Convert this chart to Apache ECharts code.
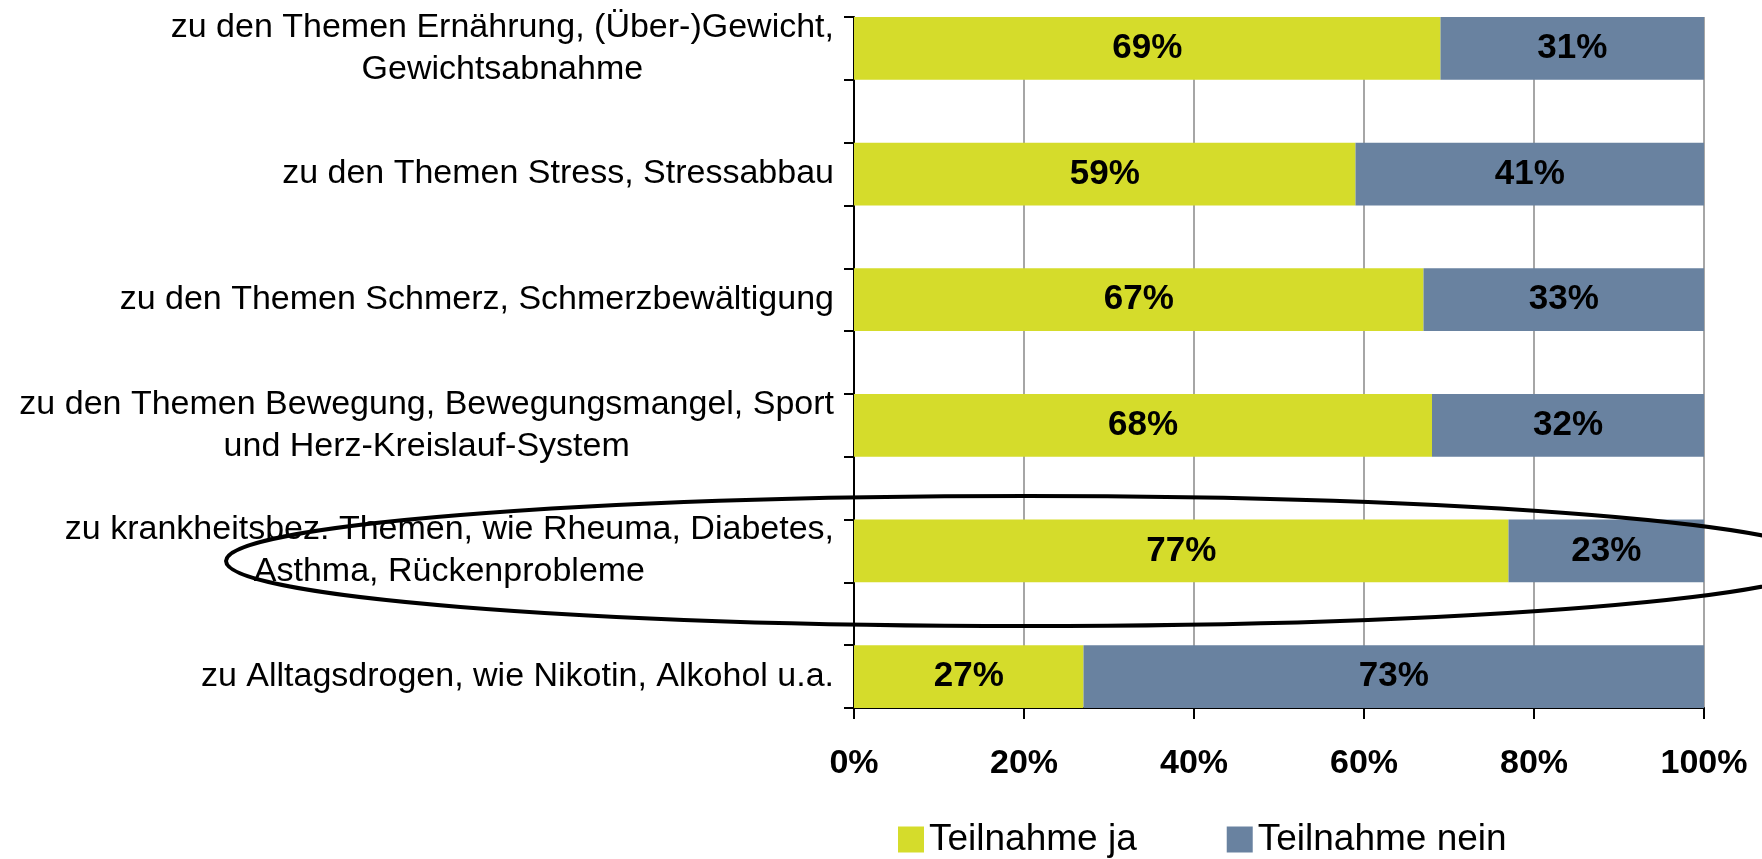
<!DOCTYPE html>
<html>
<head>
<meta charset="utf-8">
<script src="https://cdn.jsdelivr.net/npm/echarts@6/dist/echarts.min.js"></script>
<style>
  html, body { margin: 0; padding: 0; background: #fff; }
  #chart { width: 1762px; height: 859px; }
</style>
</head>
<body>
<div id="chart"></div>
<script>
var themen = [
	['zu den Themen Ernährung, (Über-)Gewicht,', 'Gewichtsabnahme'],
	['zu den Themen Stress, Stressabbau'],
	['zu den Themen Schmerz, Schmerzbewältigung'],
	['zu den Themen Bewegung, Bewegungsmangel, Sport', 'und Herz-Kreislauf-System'],
	['zu krankheitsbez. Themen, wie Rheuma, Diabetes,', 'Asthma, Rückenprobleme'],
	['zu Alltagsdrogen, wie Nikotin, Alkohol u.a.']
];
var teilnahmeJa = [69, 59, 67, 68, 77, 27];
var teilnahmeNein = [31, 41, 33, 32, 23, 73];
var xTicks = [0, 20, 40, 60, 80, 100];

var chart = echarts.init(document.getElementById('chart'));
var font = '"Liberation Sans", Arial, sans-serif';

// jede Kategorie bekommt eine leere Lücke dahinter (Balken = halbe Bandbreite)
var slots = [], jaData = [], neinData = [];
themen.forEach(function(t, i) {
	slots.push('k' + i);
	jaData.push(teilnahmeJa[i]);
	neinData.push(teilnahmeNein[i]);
	if (i < themen.length - 1) {
		slots.push('_' + i);
		jaData.push(null);
		neinData.push(null);
	}
});

var barLabel = {
	show: true,
	position: 'inside',
	formatter: function(p) { return p.value == null ? '' : p.value + '%'; },
	color: '#000',
	fontFamily: font,
	fontWeight: 'bold',
	fontSize: 35
};

option = {
	animation: false,
	grid: {
		left: 854,
		right: 58,
		top: 17,
		bottom: 151
	},
	legend: {
		data: ['Teilnahme ja', 'Teilnahme nein'],
		left: 893,
		top: 816,
		itemWidth: 26,
		itemHeight: 26,
		itemGap: 90,
		icon: 'rect',
		textStyle: {
			color: '#000',
			fontFamily: font,
			fontSize: 37
		}
	},
	xAxis: {
		type: 'value',
		min: xTicks[0],
		max: xTicks[xTicks.length - 1],
		interval: 20,
		axisLine: { show: true, lineStyle: { color: '#000', width: 2 } },
		axisTick: { show: true, length: 11, lineStyle: { color: '#000', width: 2 } },
		axisLabel: {
			margin: 39,
			color: '#000',
			fontFamily: font,
			fontWeight: 'bold',
			fontSize: 34,
			formatter: '{value}%'
		},
		splitLine: { show: true, lineStyle: { color: '#a6a6a6', width: 2 } }
	},
	yAxis: {
		type: 'category',
		inverse: true,
		data: slots,
		axisLine: { show: true, lineStyle: { color: '#000', width: 2 } },
		axisTick: { show: true, interval: 0, length: 10, lineStyle: { color: '#000', width: 2 } },
		axisLabel: {
			interval: 0,
			margin: 20,
			color: '#000',
			fontFamily: font,
			fontSize: 34,
			lineHeight: 42,
			formatter: function(v) {
				if (v.charAt(0) === '_') return '';
				var t = themen[+v.slice(1)];
				return t.map(function(s) { return '{c|' + s + '}'; }).join('\n');
			},
			rich: {
				c: { align: 'center', fontFamily: font, fontSize: 34, lineHeight: 42, color: '#000' }
			}
		}
	},
	graphic: [{
		type: 'ellipse',
		shape: { cx: 1026, cy: 561, rx: 800, ry: 65 },
		style: { fill: 'none', stroke: '#000', lineWidth: 4 },
		z: 100
	}],
	series: [
		{
			name: 'Teilnahme ja',
			type: 'bar',
			stack: 'gesamt',
			barCategoryGap: 0,
			itemStyle: { color: '#d5dc2b' },
			label: barLabel,
			data: jaData
		},
		{
			name: 'Teilnahme nein',
			type: 'bar',
			stack: 'gesamt',
			barCategoryGap: 0,
			itemStyle: { color: '#6982a0' },
			label: barLabel,
			data: neinData
		}
	]
};

chart.setOption(option);
</script>
</body>
</html>
